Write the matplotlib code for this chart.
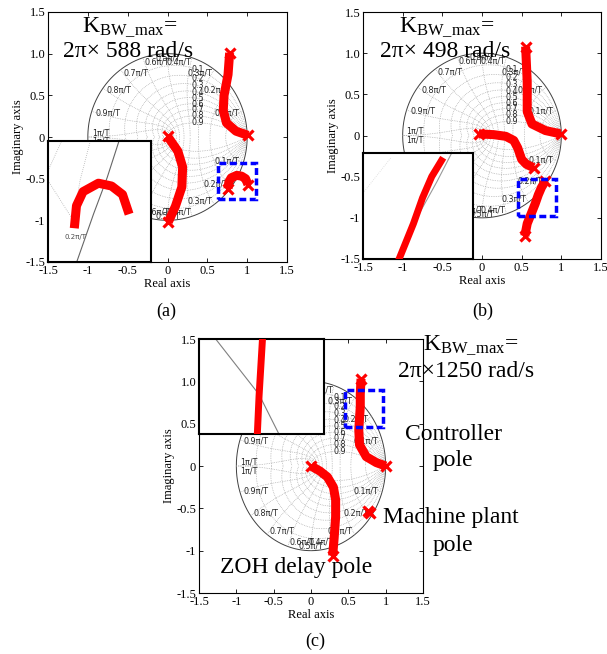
import numpy as np
import matplotlib
matplotlib.use("Agg")
import matplotlib.pyplot as plt
from matplotlib.patches import Rectangle

plt.rcParams["font.family"] = "Liberation Serif"
plt.rcParams["mathtext.fontset"] = "custom"
plt.rcParams["mathtext.rm"] = "Liberation Serif"
plt.rcParams["mathtext.it"] = "Liberation Serif:italic"

# ---- data ----
XTICKS = [-1.5, -1, -0.5, 0, 0.5, 1, 1.5]
XTICKLABELS = ["-1.5", "-1", "-0.5", "0", "0.5", "1", "1.5"]
YTICKS = [-1.5, -1, -0.5, 0, 0.5, 1, 1.5]
YTICKLABELS = ["-1.5", "-1", "-0.5", "0", "0.5", "1.0", "1.5"]
ZETAS = [0.1, 0.2, 0.3, 0.4, 0.5, 0.6, 0.7, 0.8, 0.9]
WN_STEPS = [1, 2, 3, 4, 5, 6, 7, 8, 9, 10]  # wn = k*pi/(10T)

# (a) K_BW_max = 2pi x 588 rad/s
A_CTRL_RE = [0.78, 0.76, 0.71, 0.70, 0.74, 0.86, 1.01]
A_CTRL_IM = [1.01, 0.75, 0.50, 0.32, 0.17, 0.07, 0.02]
A_ZOH_RE = [0.00, 0.13, 0.19, 0.18, 0.10, 0.01]
A_ZOH_IM = [0.01, -0.17, -0.36, -0.60, -0.83, -1.02]
A_PLANT_RE = [0.76, 0.77, 0.80, 0.87, 0.93, 0.98, 1.01]
A_PLANT_IM = [-0.62, -0.54, -0.49, -0.46, -0.47, -0.50, -0.57]
A_INSET_LINE_RE = [0.964, 0.91, 0.848, 0.771]
A_INSET_LINE_IM = [-0.31, -0.44, -0.569, -0.74]
A_INSET_DOTS = [([0.64, 0.702], [-0.416, -0.31]),
                ([0.64, 0.756], [-0.451, -0.593]),
                ([0.833, 0.786, 0.756], [-0.31, -0.451, -0.593])]

# (b) K_BW_max = 2pi x 498 rad/s
B_CTRL_RE = [0.55, 0.57, 0.57, 0.63, 0.80, 0.99]
B_CTRL_IM = [1.08, 0.65, 0.29, 0.14, 0.06, 0.02]
B_ZOH_RE = [-0.04, 0.15, 0.30, 0.40, 0.45, 0.50, 0.56, 0.65]
B_ZOH_IM = [0.02, 0.01, -0.01, -0.06, -0.15, -0.29, -0.35, -0.39]
B_PLANT_RE = [0.80, 0.75, 0.71, 0.67, 0.62, 0.57, 0.54]
B_PLANT_IM = [-0.55, -0.63, -0.72, -0.83, -0.95, -1.07, -1.22]
B_INSET_LINE_RE = [0.837, 0.773, 0.679, 0.60]
B_INSET_LINE_IM = [-0.53, -0.651, -0.816, -0.98]

# (c) K_BW_max = 2pi x 1250 rad/s
C_CTRL_RE = [0.67, 0.66, 0.66, 0.64, 0.65, 0.74, 0.875, 1.0]
C_CTRL_IM = [1.03, 0.85, 0.70, 0.43, 0.25, 0.11, 0.04, 0.0]
C_ZOH_RE = [0.00, 0.12, 0.22, 0.30, 0.33, 0.33, 0.31, 0.29]
C_ZOH_IM = [0.00, -0.06, -0.13, -0.25, -0.40, -0.60, -0.85, -1.06]
C_PLANT_RE = [0.76, 0.79]
C_PLANT_IM = [-0.53, -0.56]
C_INSET_CTRL_RE = [0.709, 0.695, 0.688]
C_INSET_CTRL_IM = [0.90, 0.635, 0.46]
C_INSET_LINE_RE = [0.518, 0.695, 0.776]
C_INSET_LINE_IM = [0.90, 0.643, 0.46]

W, H = 607, 654
fig = plt.figure(figsize=(W / 100, H / 100), dpi=100)


def px_axes(x0, y0, x1, y1):
    """axes from pixel box (top-left origin)"""
    return fig.add_axes([x0 / W, 1 - y1 / H, (x1 - x0) / W, (y1 - y0) / H])


def zgrid(ax):
    dot = dict(color="0.62", lw=0.5, ls=(0, (1, 1.5)), zorder=1)
    th = np.linspace(0, 2 * np.pi, 400)
    ax.plot(np.cos(th), np.sin(th), color="0.25", lw=0.7, zorder=1)
    w = np.linspace(0, np.pi, 300)
    for zeta in ZETAS:
        a = zeta / np.sqrt(1 - zeta ** 2)
        z = np.exp(-a * w + 1j * w)
        ax.plot(z.real, z.imag, **dot)
        ax.plot(z.real, -z.imag, **dot)
        half = w <= np.pi / 2
        y_lab = np.interp(0.38, z.real[half][::-1], z.imag[half][::-1])
        ax.text(0.38, y_lab, f"{zeta:g}", fontsize=5.8, family="DejaVu Sans",
                ha="center", va="center", color="0.15", zorder=2)
    zt = np.linspace(0, 1, 100)
    for k in WN_STEPS:
        wn = k * np.pi / 10
        z = np.exp(-wn * zt + 1j * wn * np.sqrt(1 - zt ** 2))
        ax.plot(z.real, z.imag, **dot)
        ax.plot(z.real, -z.imag, **dot)
        lab = f"{k / 10:g}π/T"
        ha = "right" if k < 5 else ("left" if k > 5 else "center")
        for s in (1, -1):
            va = "center"
            if k == 10:
                va = "bottom" if s > 0 else "top"
            ax.text(0.95 * np.cos(wn), s * 0.95 * np.sin(wn), lab, fontsize=5.8,
                    family="DejaVu Sans", ha=ha, va=va, color="0.15", zorder=2)


def branch(ax, re, im, lw=6.5, ends=True):
    ax.plot(re, im, color="red", lw=lw, solid_capstyle="butt", zorder=3)
    if ends:
        ax.plot([re[0], re[-1]], [im[0], im[-1]], "x", color="red", ms=lw * 1.2,
                mew=lw * 0.35, zorder=3)


def style_main(ax):
    ax.set_xlim(-1.5, 1.5)
    ax.set_ylim(-1.5, 1.5)
    ax.set_xticks(XTICKS)
    ax.set_xticklabels(XTICKLABELS)
    ax.set_yticks(YTICKS)
    ax.set_yticklabels(YTICKLABELS)
    ax.tick_params(direction="in", top=True, right=True, labelsize=9, length=3,
                   width=0.6, pad=2)
    ax.set_xlabel("Real axis", fontsize=9, labelpad=1)
    ax.set_ylabel("Imaginary axis", fontsize=9, labelpad=1)
    for sp in ax.spines.values():
        sp.set_linewidth(0.8)


def zoom_box(ax, box):
    x0, x1, y0, y1 = box
    ax.add_patch(Rectangle((x0, y0), x1 - x0, y1 - y0, fill=False,
                           edgecolor="#0000ff", lw=2.5, ls=(0, (2, 1)), zorder=4))


def inset(rect_px, box):
    ia = px_axes(*rect_px)
    ia.set_zorder(5)
    ia.set_facecolor("white")
    ia.set_xlim(box[0], box[1])
    ia.set_ylim(box[2], box[3])
    ia.set_xticks([])
    ia.set_yticks([])
    for sp in ia.spines.values():
        sp.set_linewidth(1.5)
    return ia


def k_label(x_px, y1_px, y2_px, value):
    fig.text(x_px[0] / W, 1 - y1_px / H, r"K$_{\mathrm{BW\_max}}$=", fontsize=17,
             va="baseline")
    fig.text(x_px[1] / W, 1 - y2_px / H, value, fontsize=17, va="baseline")


# ---------- (a) ----------
ax_a = px_axes(48, 12, 287, 262)
style_main(ax_a)
zgrid(ax_a)
branch(ax_a, A_CTRL_RE, A_CTRL_IM)
branch(ax_a, A_ZOH_RE, A_ZOH_IM)
branch(ax_a, A_PLANT_RE, A_PLANT_IM)
box_a = (0.64, 1.11, -0.74, -0.31)
zoom_box(ax_a, box_a)
ia = inset((48, 141, 151, 262), box_a)
for xs, ys in A_INSET_DOTS:
    ia.plot(xs, ys, color="0.7", lw=0.6, ls=(0, (1, 1.5)))
ia.plot(A_INSET_LINE_RE, A_INSET_LINE_IM, color="0.4", lw=0.8)
branch(ia, A_PLANT_RE, A_PLANT_IM, ends=False)
ia.text(0.765, -0.652, "0.2π/T", fontsize=5, family="DejaVu Sans",
        ha="center", va="center", color="0.3")
k_label((82, 63), 32, 57, "2π× 588 rad/s")
fig.text(166 / W, 1 - 311 / H, "(a)", fontsize=13, ha="center", va="center")

# ---------- (b) ----------
ax_b = px_axes(363, 12, 601, 259)
style_main(ax_b)
zgrid(ax_b)
branch(ax_b, B_CTRL_RE, B_CTRL_IM)
branch(ax_b, B_ZOH_RE, B_ZOH_IM)
branch(ax_b, B_PLANT_RE, B_PLANT_IM)
box_b = (0.45, 0.93, -0.98, -0.53)
zoom_box(ax_b, box_b)
ib = inset((363, 153, 473, 259), box_b)
ib.plot([0.45, 0.572], [-0.70, -0.55], color="0.85", lw=0.6, ls=(0, (1, 1.5)))
ib.plot(B_INSET_LINE_RE, B_INSET_LINE_IM, color="0.6", lw=0.8)
branch(ib, B_PLANT_RE, B_PLANT_IM, lw=5, ends=False)
k_label((399, 380), 32, 57, "2π× 498 rad/s")
fig.text(483 / W, 1 - 311 / H, "(b)", fontsize=13, ha="center", va="center")

# ---------- (c) ----------
ax_c = px_axes(199, 339, 423, 593)
style_main(ax_c)
zgrid(ax_c)
branch(ax_c, C_CTRL_RE, C_CTRL_IM)
branch(ax_c, C_ZOH_RE, C_ZOH_IM)
branch(ax_c, C_PLANT_RE, C_PLANT_IM)
box_c = (0.45, 0.96, 0.46, 0.90)
zoom_box(ax_c, box_c)
ic = inset((199, 339, 324, 434), box_c)
ic.plot(C_INSET_LINE_RE, C_INSET_LINE_IM, color="0.5", lw=0.8)
ic.plot(C_INSET_CTRL_RE, C_INSET_CTRL_IM, color="red", lw=5, zorder=3)
ax_c.text(-0.2, -1.2, "ZOH delay pole", fontsize=17, ha="center", va="center")
k_label((423, 398), 350, 377, "2π×1250 rad/s")
fig.text(405 / W, 1 - 440 / H, "Controller", fontsize=17, va="baseline")
fig.text(433 / W, 1 - 466 / H, "pole", fontsize=17, va="baseline")
fig.text(383 / W, 1 - 523 / H, "Machine plant", fontsize=17, va="baseline")
fig.text(433 / W, 1 - 551 / H, "pole", fontsize=17, va="baseline")
fig.text(315 / W, 1 - 641 / H, "(c)", fontsize=13, ha="center", va="center")

fig.savefig("out.png", dpi=100)
